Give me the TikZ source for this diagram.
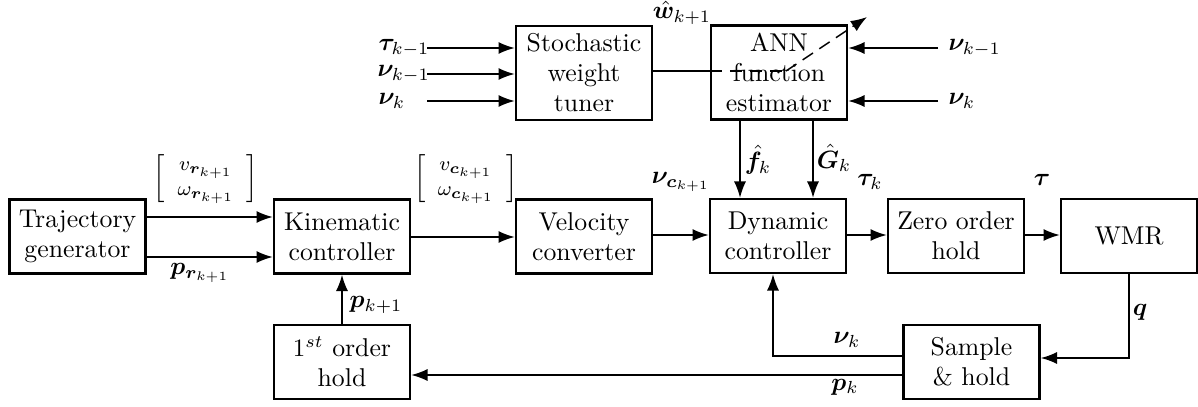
\documentclass[tikz,border=0pt]{standalone}
\usepackage{amsmath,bm}
\usetikzlibrary{arrows.meta,calc}
\begin{document}
\begin{tikzpicture}[x=0.4pt,y=-0.4pt,
  blk/.style={draw,line width=1pt,minimum width=54.4pt,minimum height=29.6pt,inner sep=1pt,align=center,font=\fontsize{10.3}{12}\selectfont},
  tall/.style={blk,minimum height=37.6pt},
  arr/.style={-{Latex[length=6.5pt,width=4.8pt]},line width=0.6pt},
  ln/.style={line width=0.6pt},
  lbl/.style={inner sep=0pt,font=\fontsize{10}{12}\selectfont},
  mat/.style={inner sep=0pt,font=\footnotesize}]
\useasboundingbox (0,0) rectangle (1198,406);
% blocks
\node[blk] (traj) at (77.5,236.5) {Trajectory\\generator};
\node[blk] (kin) at (342,236.5) {Kinematic\\controller};
\node[blk] (vel) at (584,236.5) {Velocity\\converter};
\node[blk] (dyn) at (778,236) {Dynamic\\controller};
\node[blk] (zoh) at (956,236) {Zero order\\hold};
\node[blk] (wmr) at (1129,236) {WMR};
\node[blk] (foh) at (342,362) {$1^{st}$ order\\hold};
\node[blk] (sah) at (971.5,362) {Sample\\\& hold};
\node[tall] (stw) at (584,73) {Stochastic\\weight\\tuner};
\node[tall] (ann) at (779,72.5) {ANN\\function\\estimator};
% helper coordinates
\coordinate (r1) at (0,217);
\coordinate (r2) at (0,257);
\coordinate (m1) at (0,237);
\coordinate (m2) at (0,235);
\coordinate (y358) at (0,358);
\coordinate (fb) at (773,356);
\coordinate (y375) at (0,375);
\coordinate (fx) at (740,0);
\coordinate (gx) at (813,0);
\coordinate (i1) at (427,48);
\coordinate (i2) at (427,74);
\coordinate (i3) at (427,101);
\coordinate (j1) at (938,48);
\coordinate (j2) at (938,101);
\coordinate (w) at (0,71);
\coordinate (wbend) at (786,71);
\coordinate (wend) at (867,17);
% connectors
\draw[arr] (traj.east |- r1) -- (kin.west |- r1);
\draw[arr] (traj.east |- r2) -- (kin.west |- r2);
\draw[arr] (kin.east |- m1) -- (vel.west |- m1);
\draw[arr] (vel.east |- m2) -- (dyn.west |- m2);
\draw[arr] (dyn.east |- m2) -- (zoh.west |- m2);
\draw[arr] (zoh.east |- m2) -- (wmr.west |- m2);
\draw[arr] (foh.north) -- (kin.south);
\draw[arr] (wmr.south) |- (sah.east |- y358);
\draw[arr] (sah.west |- fb) -| (fb |- dyn.south);
\draw[arr] (sah.west |- y375) -- (foh.east |- y375);
\draw[arr] (ann.south -| fx) -- (dyn.north -| fx);
\draw[arr] (ann.south -| gx) -- (dyn.north -| gx);
\draw[arr] (i1) -- (stw.west |- i1);
\draw[arr] (i2) -- (stw.west |- i2);
\draw[arr] (i3) -- (stw.west |- i3);
\draw[arr] (j1) -- (ann.east |- j1);
\draw[arr] (j2) -- (ann.east |- j2);
\draw[ln] (stw.east |- w) -- (ann.west |- w);
\draw[ln,dash pattern=on 5pt off 3pt] (ann.west |- w) -- (wbend);
\draw[arr,dash pattern=on 5pt off 3pt] (wbend) -- (wend);
% labels
\node[lbl,anchor=west] (lt1) at (378,48) {$\bm{\tau}_{k-1}$};
\node[lbl,anchor=west] (lnu1) at (377,74) {$\bm{\nu}_{k-1}$};
\node[lbl,anchor=west] (lnu2) at (378,101) {$\bm{\nu}_{k}$};
\node[lbl,anchor=west] (rnu1) at (948,48) {$\bm{\nu}_{k-1}$};
\node[lbl,anchor=west] (rnu2) at (948,101) {$\bm{\nu}_{k}$};
\node[lbl] (lw) at (682,13) {$\hat{\bm{w}}_{k+1}$};
\node[lbl] (lf) at (758,160) {$\hat{\bm{f}}_{k}$};
\node[lbl] (lg) at (834,158) {$\hat{\bm{G}}_{k}$};
\node[lbl] (lnuc) at (681,182) {$\bm{\nu}_{\bm{c}_{k+1}}$};
\node[lbl] (ltk) at (870,182) {$\bm{\tau}_{k}$};
\node[lbl] (lt) at (1042,180) {$\bm{\tau}$};
\node[lbl] (lq) at (1140,312) {$\bm{q}$};
\node[lbl] (lnuk) at (847,340) {$\bm{\nu}_{k}$};
\node[lbl] (lpk) at (845,387) {$\bm{p}_{k}$};
\node[lbl] (lpk1) at (376,305) {$\bm{p}_{k+1}$};
\node[lbl] (lpr) at (200,273) {$\bm{p}_{\bm{r}_{k+1}}$};
\node[mat] (mr) at (206,179) {$\left[\begin{array}{c} v_{\bm{r}_{k+1}}\\ \omega_{\bm{r}_{k+1}}\end{array}\right]$};
\node[mat] (mc) at (466,179) {$\left[\begin{array}{c} v_{\bm{c}_{k+1}}\\ \omega_{\bm{c}_{k+1}}\end{array}\right]$};
\end{tikzpicture}
\end{document}
